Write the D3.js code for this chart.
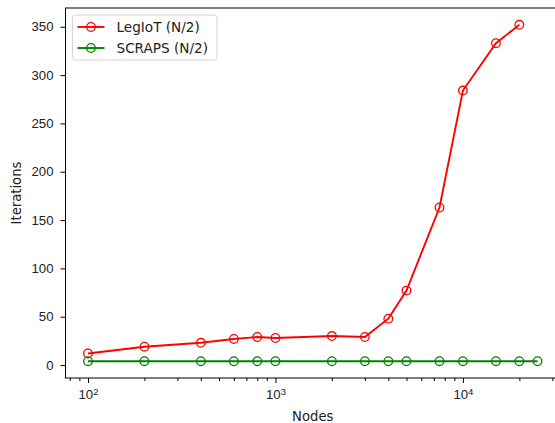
<!DOCTYPE html>
<html>
<head>
<meta charset="utf-8">
<script src="https://cdn.jsdelivr.net/npm/d3@7"></script>
<style>
  body { margin: 0; background: #fff; }
  svg { display: block; font-family: "DejaVu Sans", sans-serif; }
  .axis path, .axis line { stroke: #000; }
  .axis text { fill: #222; font-size: 13.2px; }
</style>
</head>
<body>
<div id="chart"></div>
<script>
// data
var nodes = [100, 200, 400, 600, 800, 1000, 2000, 3000, 4000, 5000, 7500, 10000, 15000, 20000, 25000];
var legiot = [12, 19, 23, 27, 29, 28, 30, 29, 48, 77, 163, 284, 333, 352];
var scraps = [4, 4, 4, 4, 4, 4, 4, 4, 4, 4, 4, 4, 4, 4, 4];
var yTicks = [0, 50, 100, 150, 200, 250, 300, 350];
var xMajor = [100, 1000, 10000];
var xMinor = [80, 90, 200, 300, 400, 500, 600, 700, 800, 900,
              2000, 3000, 4000, 5000, 6000, 7000, 8000, 9000, 20000, 30000];

var series = [
    { name: "LegIoT (N/2)", color: "#ff0000", values: legiot },
    { name: "SCRAPS (N/2)", color: "#008000", values: scraps }
];

var W = 555, H = 423;
var plot = { left: 65.5, top: 8, right: 560, bottom: 378 };

var svg = d3.select("#chart").append("svg")
    .attr("width", W)
    .attr("height", H);

// matplotlib style 5% margins (log space on x)
var lx = d3.extent(nodes).map(Math.log10);
var mx = (lx[1] - lx[0]) * 0.05;
var x = d3.scaleLog()
    .domain([Math.pow(10, lx[0] - mx), Math.pow(10, lx[1] + mx)])
    .range([plot.left, plot.right]);

var allY = legiot.concat(scraps);
var ey = d3.extent(allY);
var my = (ey[1] - ey[0]) * 0.05;
var y = d3.scaleLinear()
    .domain([ey[0] - my, ey[1] + my])
    .range([plot.bottom, plot.top]);

// y axis
var yAxis = svg.append("g")
    .attr("class", "axis")
    .attr("transform", "translate(" + plot.left + ",0)")
    .call(d3.axisLeft(y).tickValues(yTicks).tickSize(5).tickPadding(7).tickSizeOuter(0));
yAxis.select(".domain").remove();

// x axis minor ticks
svg.append("g")
    .attr("class", "axis")
    .attr("transform", "translate(0," + plot.bottom + ")")
    .call(d3.axisBottom(x).tickValues(xMinor).tickSize(3).tickFormat(""))
    .select(".domain").remove();

// x axis major ticks
var xAxis = svg.append("g")
    .attr("class", "axis")
    .attr("transform", "translate(0," + plot.bottom + ")")
    .call(d3.axisBottom(x).tickValues(xMajor).tickSize(5).tickPadding(7).tickFormat(""));
xAxis.select(".domain").remove();
xAxis.selectAll(".tick text").each(function (d) {
    var t = d3.select(this);
    t.append("tspan").text("10");
    t.append("tspan").attr("dy", "-0.45em").style("font-size", "9.5px").text(Math.round(Math.log10(d)));
});

// spines
svg.append("rect")
    .attr("x", plot.left)
    .attr("y", plot.top)
    .attr("width", plot.right - plot.left)
    .attr("height", plot.bottom - plot.top)
    .attr("fill", "none")
    .attr("stroke", "#000")
    .attr("stroke-width", 1);

// lines and markers
var line = d3.line()
    .x(function (d, i) { return x(nodes[i]); })
    .y(function (d) { return y(d); });

series.forEach(function (s) {
    svg.append("path")
        .datum(s.values)
        .attr("fill", "none")
        .attr("stroke", s.color)
        .attr("stroke-width", 1.9)
        .attr("d", line);

    svg.selectAll(null)
        .data(s.values)
        .enter()
        .append("circle")
        .attr("cx", function (d, i) { return x(nodes[i]); })
        .attr("cy", function (d) { return y(d); })
        .attr("r", 4.3)
        .attr("fill", "none")
        .attr("stroke", s.color)
        .attr("stroke-width", 1.3);
});

// axis titles
svg.append("text")
    .attr("x", (plot.left + plot.right) / 2)
    .attr("y", 421)
    .attr("text-anchor", "middle")
    .style("font-size", "13.2px")
    .attr("fill", "#222")
    .text("Nodes");

svg.append("text")
    .attr("transform", "translate(21," + ((plot.top + plot.bottom) / 2) + ") rotate(-90)")
    .attr("text-anchor", "middle")
    .style("font-size", "13.2px")
    .attr("fill", "#222")
    .text("Iterations");

// legend
var legend = svg.append("g").attr("transform", "translate(72.5,15)");
legend.append("rect")
    .attr("width", 144.5)
    .attr("height", 45)
    .attr("rx", 3)
    .attr("fill", "#fff")
    .attr("fill-opacity", 0.8)
    .attr("stroke", "#d6d6d6");

series.forEach(function (s, i) {
    var row = legend.append("g").attr("transform", "translate(0," + (12 + i * 21) + ")");
    row.append("line")
        .attr("x1", 5).attr("x2", 32)
        .attr("stroke", s.color)
        .attr("stroke-width", 1.9);
    row.append("circle")
        .attr("cx", 18.5)
        .attr("r", 4.3)
        .attr("fill", "none")
        .attr("stroke", s.color)
        .attr("stroke-width", 1.3);
    row.append("text")
        .attr("x", 44)
        .attr("dy", "0.35em")
        .style("font-size", "13.6px")
        .attr("fill", "#222")
        .text(s.name);
});
</script>
</body>
</html>
